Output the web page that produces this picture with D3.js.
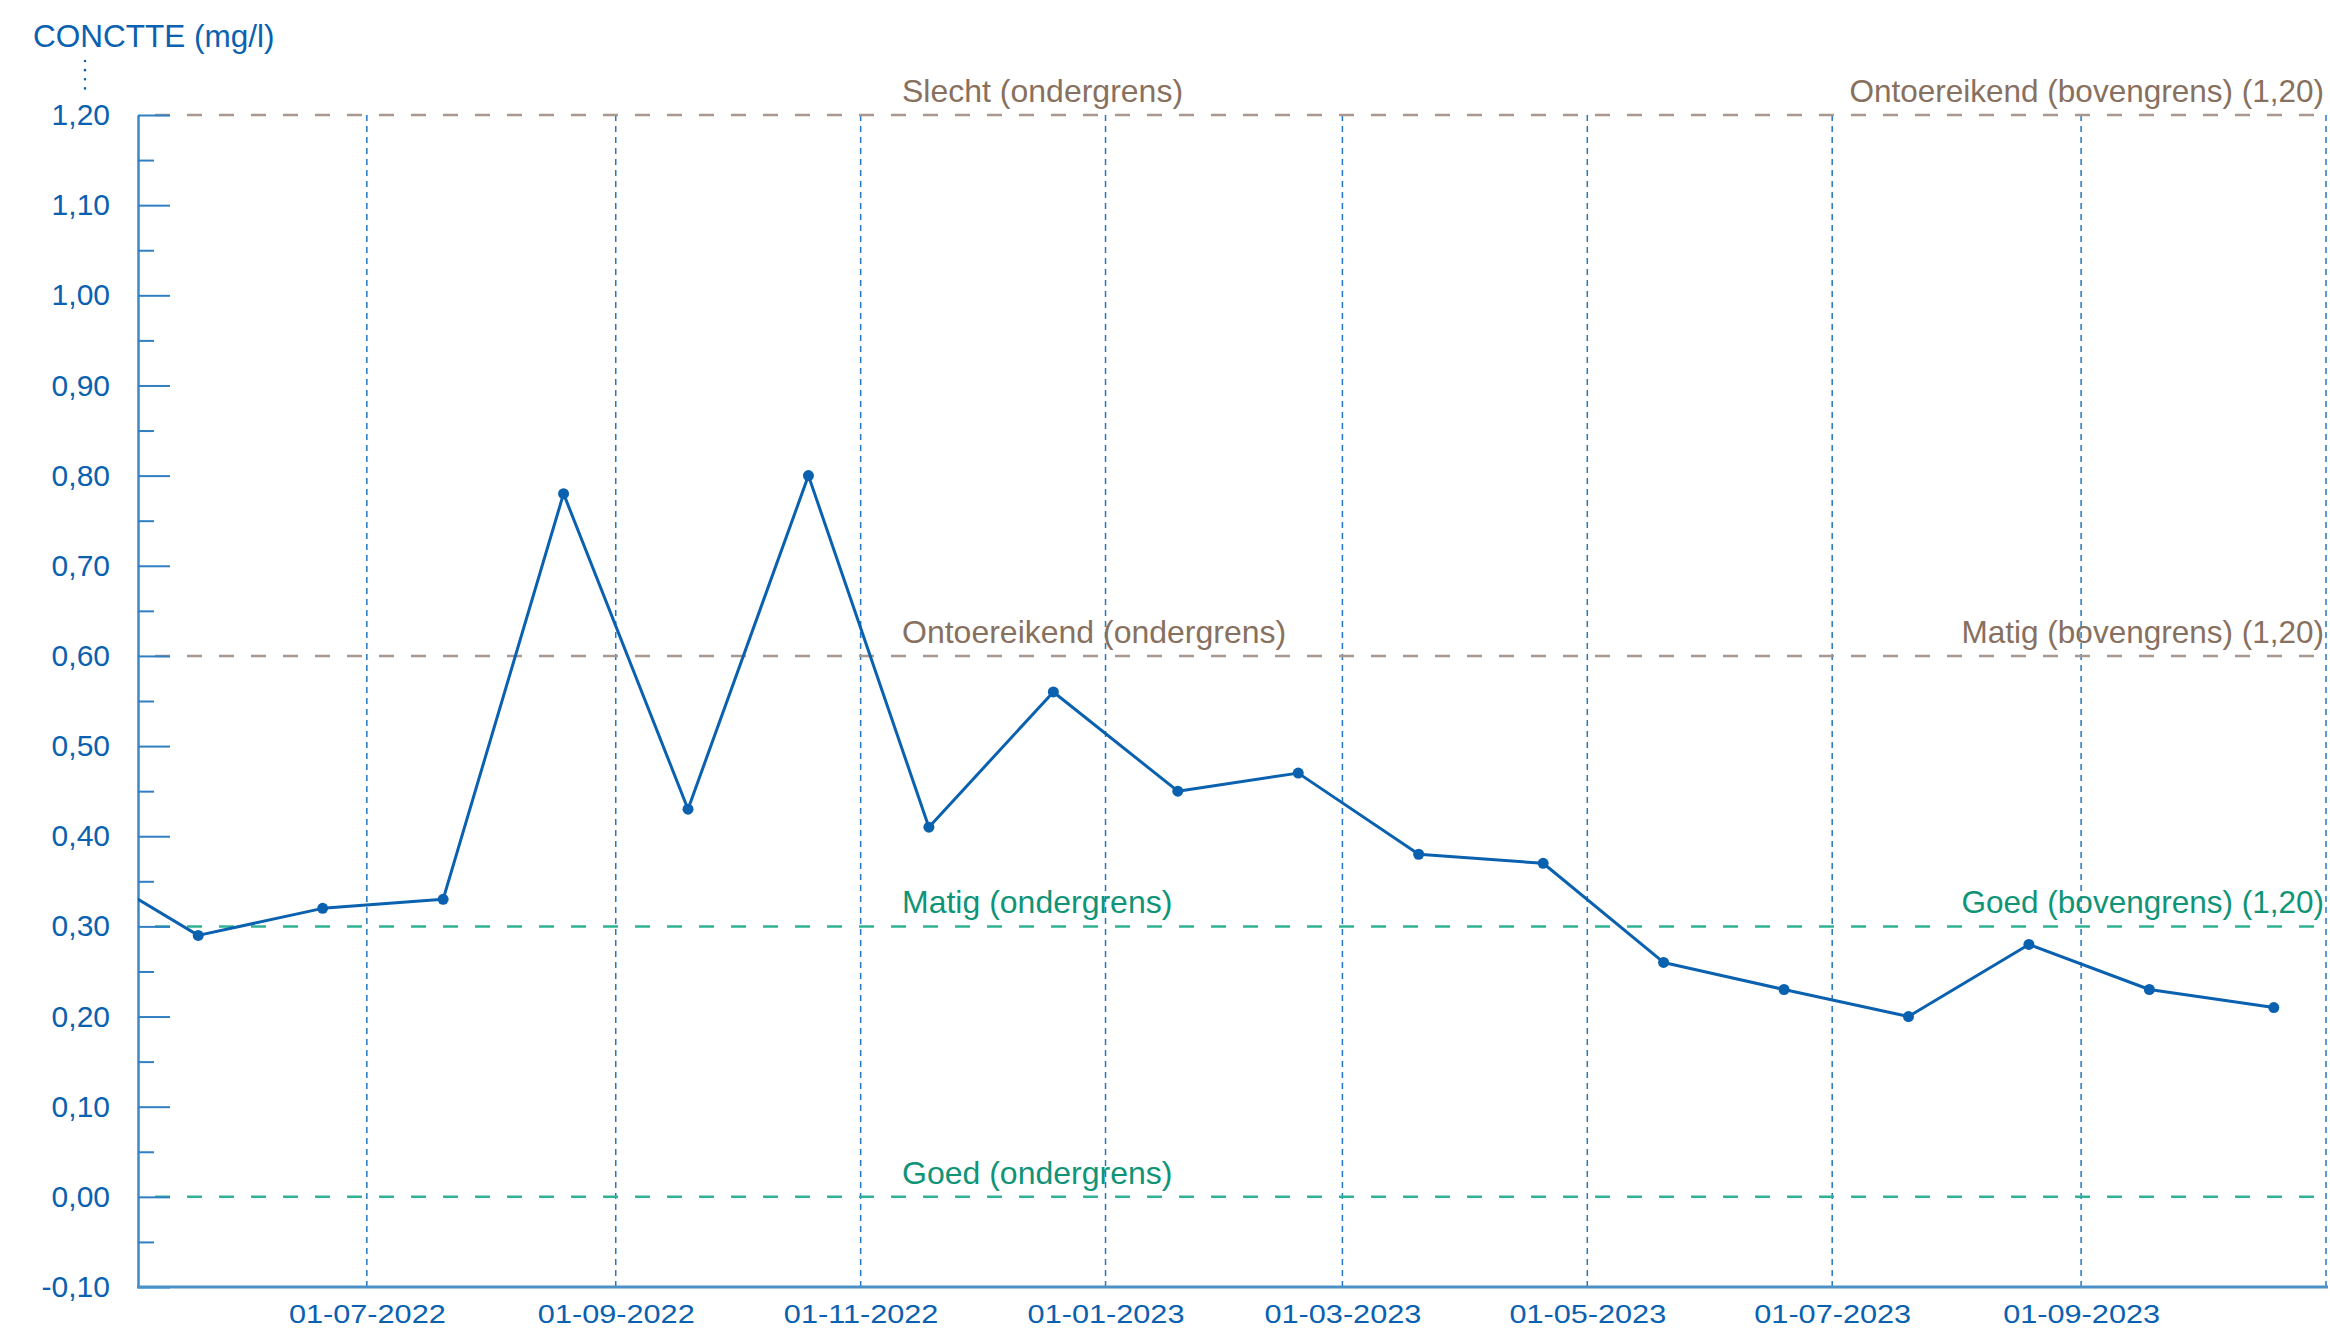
<!DOCTYPE html>
<html>
<head>
<meta charset="utf-8" />
<title>Concentratie (mg/l)</title>
<script src="https://d3js.org/d3.v7.min.js"></script>
<style>
  body { margin: 0; background: #ffffff; }
  svg { display: block; font-family: "Liberation Sans", Arial, sans-serif; }
</style>
</head>
<body>
<svg id="viz"></svg>

<script>
// measured values, one sample a month
var sampleDates = ["2022-04-20", "2022-05-20", "2022-06-20", "2022-07-20", "2022-08-19",
  "2022-09-19", "2022-10-19", "2022-11-18", "2022-12-19", "2023-01-19", "2023-02-18",
  "2023-03-20", "2023-04-20", "2023-05-20", "2023-06-19", "2023-07-20", "2023-08-19",
  "2023-09-18", "2023-10-19"];
var concValues = [0.37, 0.29, 0.32, 0.33, 0.78, 0.43, 0.80, 0.41, 0.56, 0.45, 0.47,
  0.38, 0.37, 0.26, 0.23, 0.20, 0.28, 0.23, 0.21];

// norm lines
var limitValues = [1.2, 0.6, 0.3, 0.0];
var limitLeft = ["Slecht (ondergrens)", "Ontoereikend (ondergrens)", "Matig (ondergrens)", "Goed (ondergrens)"];
var limitRight = ["Ontoereikend (bovengrens) (1,20)", "Matig (bovengrens) (1,20)", "Goed (bovengrens) (1,20)", ""];

// axes
var xDomain = ["2022-05-05", "2023-11-01"];
var xTickDates = ["2022-07-01", "2022-09-01", "2022-11-01", "2023-01-01", "2023-03-01",
  "2023-05-01", "2023-07-01", "2023-09-01"];
var yTicks = [-0.1, 0.0, 0.1, 0.2, 0.3, 0.4, 0.5, 0.6, 0.7, 0.8, 0.9, 1.0, 1.1, 1.2];
var yTitle = "CONCTTE (mg/l)";

var width = 2330, height = 1329;
var margin = {top: 115, right: 2326, bottom: 1287, left: 138};

var blue = "#0a61af";
var parse = d3.timeParse("%Y-%m-%d");
var nl = d3.formatLocale({decimal: ",", thousands: ".", grouping: [3], currency: ["€", ""], minus: "-"});
var fmt = nl.format(".2f");

var data = sampleDates.map(function(d, i) {
  return {date: parse(d), value: concValues[i]};
});

var x = d3.scaleTime()
  .domain(xDomain.map(parse))
  .range([margin.left, margin.right]);

var y = d3.scaleLinear()
  .domain([d3.min(yTicks), d3.max(yTicks)])
  .range([margin.bottom, margin.top]);

var svg = d3.select("#viz")
  .attr("width", width)
  .attr("height", height);

svg.append("rect").attr("width", width).attr("height", height).attr("fill", "#fff");

svg.append("clipPath").attr("id", "plot")
  .append("rect")
  .attr("x", margin.left).attr("y", 0)
  .attr("width", margin.right - margin.left).attr("height", height);

//vertical grid
var gridDates = xTickDates.map(parse).concat([x.domain()[1]]);
svg.append("g")
  .selectAll("line")
  .data(gridDates)
  .enter().append("line")
    .attr("x1", function(d) { return x(d); })
    .attr("x2", function(d) { return x(d); })
    .attr("y1", y(1.2))
    .attr("y2", margin.bottom)
    .attr("stroke", "#2377c4")
    .attr("stroke-width", 1.5)
    .attr("stroke-dasharray", "6,5");

//norm lines + labels
var limitColor = d3.scaleThreshold().domain([0.5]).range(["#2fb394", "#a89890"]);
var labelColor = d3.scaleThreshold().domain([0.5]).range(["#0f9478", "#88705f"]);

var limits = svg.append("g")
  .selectAll("g")
  .data(limitValues)
  .enter().append("g");

limits.append("line")
  .attr("x1", margin.left)
  .attr("x2", margin.right)
  .attr("y1", function(d) { return y(d); })
  .attr("y2", function(d) { return y(d); })
  .attr("stroke", function(d) { return limitColor(d); })
  .attr("stroke-width", 2.5)
  .attr("stroke-dasharray", "15,17")
  .attr("stroke-dashoffset", 15);

limits.append("text")
  .attr("x", 902)
  .attr("y", function(d) { return y(d) - 13; })
  .attr("fill", function(d) { return labelColor(d); })
  .style("font-size", "32px")
  .text(function(d, i) { return limitLeft[i]; });

limits.append("text")
  .attr("x", margin.right - 2)
  .attr("y", function(d) { return y(d) - 13; })
  .attr("text-anchor", "end")
  .attr("fill", function(d) { return labelColor(d); })
  .style("font-size", "31.5px")
  .text(function(d, i) { return limitRight[i]; });

//y axis
var yAxis = svg.append("g")
  .attr("transform", "translate(" + margin.left + ",0)")
  .call(d3.axisLeft(y)
    .tickValues(yTicks)
    .tickSizeInner(-32)
    .tickSizeOuter(0)
    .tickPadding(28)
    .tickFormat(function(d) { return fmt(d); }));
yAxis.select(".domain").attr("stroke", "#3c88c8").attr("stroke-width", 2.5);
yAxis.selectAll(".tick line").attr("stroke", "#2f7fc2").attr("stroke-width", 2);
yAxis.selectAll(".tick text")
  .attr("fill", blue)
  .style("font-size", "30px")
  .attr("font-family", "Liberation Sans, Arial, sans-serif");

var minorTicks = yTicks.slice(0, -1).map(function(d) { return d + 0.05; });
var yMinor = svg.append("g")
  .attr("transform", "translate(" + margin.left + ",0)")
  .call(d3.axisLeft(y)
    .tickValues(minorTicks)
    .tickSizeInner(-16)
    .tickSizeOuter(0)
    .tickFormat(""));
yMinor.select(".domain").remove();
yMinor.selectAll(".tick line").attr("stroke", "#2f7fc2").attr("stroke-width", 2);

//x axis
var xAxis = svg.append("g")
  .attr("transform", "translate(0," + margin.bottom + ")")
  .call(d3.axisBottom(x)
    .tickValues(xTickDates.map(parse))
    .tickSize(0)
    .tickPadding(17.5)
    .tickFormat(d3.timeFormat("%d-%m-%Y")));
xAxis.select(".domain").remove();
xAxis.selectAll(".tick text")
  .attr("fill", blue)
  .style("font-size", "26px")
  .attr("transform", "scale(1.18,1)");

svg.append("line")
  .attr("x1", margin.left - 1).attr("x2", margin.right + 2)
  .attr("y1", margin.bottom).attr("y2", margin.bottom)
  .attr("stroke", "#4b91c9")
  .attr("stroke-width", 3);

//title
svg.append("text")
  .attr("x", 33)
  .attr("y", 47)
  .attr("fill", blue)
  .style("font-size", "31.5px")
  .text(yTitle);

svg.append("line")
  .attr("x1", 85).attr("x2", 85)
  .attr("y1", 61).attr("y2", 90)
  .attr("stroke", blue)
  .attr("stroke-width", 2.5)
  .attr("stroke-linecap", "round")
  .attr("stroke-dasharray", "0.1,9");

//series
var line = d3.line()
  .x(function(d) { return x(d.date); })
  .y(function(d) { return y(d.value); });

svg.append("path")
  .datum(data)
  .attr("clip-path", "url(#plot)")
  .attr("fill", "none")
  .attr("stroke", blue)
  .attr("stroke-width", 3)
  .attr("stroke-linejoin", "round")
  .attr("d", line);

svg.append("g")
  .selectAll("circle")
  .data(data.filter(function(d) { return d.date >= x.domain()[0]; }))
  .enter().append("circle")
    .attr("cx", function(d) { return x(d.date); })
    .attr("cy", function(d) { return y(d.value); })
    .attr("r", 5.5)
    .attr("fill", blue);
</script>
</body>
</html>
